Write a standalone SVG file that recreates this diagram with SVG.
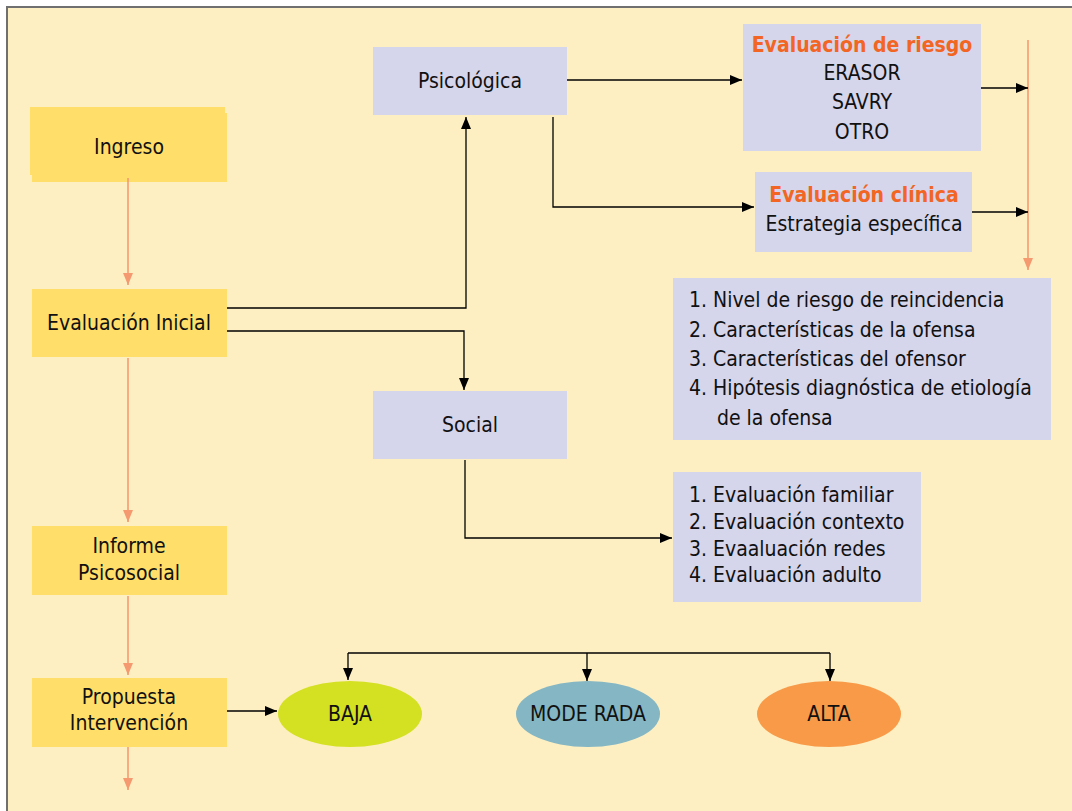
<svg xmlns="http://www.w3.org/2000/svg" width="1072" height="811" viewBox="0 0 1072 811">
<defs>
<marker id="ab" viewBox="0 0 12 10" refX="12" refY="5" markerWidth="12" markerHeight="10" markerUnits="userSpaceOnUse" orient="auto"><path d="M0,0 L12,5 L0,10 Z" fill="#000"/></marker>
<marker id="as" viewBox="0 0 12 10" refX="12" refY="5" markerWidth="14" markerHeight="10" markerUnits="userSpaceOnUse" orient="auto"><path d="M0,0 L12,5 L0,10 Z" fill="#F59A70"/></marker>
<style>
text{font-family:"DejaVu Sans Condensed","DejaVu Sans",sans-serif;font-size:21px;fill:#111;}
.c{text-anchor:middle;}
.y{fill:#FFDE6A;}
.l{fill:#D5D5EB;}
.o{fill:#F26522;font-weight:bold;}
.k{fill:none;stroke:#000;stroke-width:1.3;}
.s{fill:none;stroke:#F59A70;stroke-width:1.6;}
</style>
</defs>
<rect x="7" y="7" width="1075" height="815" fill="#FDEFC2" stroke="#707070" stroke-width="2"/>

<g id="ingreso"><rect class="y" x="30" y="107" width="195" height="68"/><rect class="y" x="32" y="113" width="195" height="69"/><text class="c" x="129" y="154">Ingreso</text></g>
<g id="eval-inicial"><rect class="y" x="32" y="289" width="195" height="68"/><text class="c" x="129" y="330">Evaluación Inicial</text></g>
<g id="informe"><rect class="y" x="32" y="526" width="195" height="69"/><text class="c" x="129" y="553">Informe</text><text class="c" x="129" y="580">Psicosocial</text></g>
<g id="propuesta"><rect class="y" x="32" y="678" width="195" height="69"/><text class="c" x="129" y="704">Propuesta</text><text class="c" x="129" y="730">Intervención</text></g>
<g id="psicologica"><rect class="l" x="373" y="47" width="194" height="68"/><text class="c" x="470" y="88">Psicológica</text></g>
<g id="social"><rect class="l" x="373" y="391" width="194" height="68"/><text class="c" x="470" y="432">Social</text></g>
<g id="eval-riesgo"><rect class="l" x="743" y="24" width="238" height="127"/><text class="c o" x="862" y="52">Evaluación de riesgo</text><text class="c" x="862" y="80">ERASOR</text><text class="c" x="862" y="109">SAVRY</text><text class="c" x="862" y="139">OTRO</text></g>
<g id="eval-clinica"><rect class="l" x="755" y="172" width="217" height="80"/><text class="c o" x="864" y="202">Evaluación clínica</text><text class="c" x="864" y="231">Estrategia específica</text></g>
<g id="lista-psico"><rect class="l" x="673" y="278" width="378" height="162"/>
<text x="689" y="307">1. Nivel de riesgo de reincidencia</text>
<text x="689" y="337">2. Características de la ofensa</text>
<text x="689" y="366">3. Características del ofensor</text>
<text x="689" y="395">4. Hipótesis diagnóstica de etiología</text>
<text x="717" y="425">de la ofensa</text></g>
<g id="lista-social"><rect class="l" x="673" y="472" width="248" height="130"/>
<text x="689" y="502">1. Evaluación familiar</text>
<text x="689" y="529">2. Evaluación contexto</text>
<text x="689" y="556">3. Evaaluación redes</text>
<text x="689" y="582">4. Evaluación adulto</text></g>
<g id="baja"><ellipse cx="350" cy="714" rx="72" ry="33" fill="#D4E022"/><text class="c" x="350" y="721">BAJA</text></g>
<g id="moderada"><ellipse cx="588" cy="714" rx="72" ry="33" fill="#84B6C4"/><text class="c" x="588" y="721">MODE RADA</text></g>
<g id="alta"><ellipse cx="829" cy="714" rx="72" ry="33" fill="#F89A48"/><text class="c" x="829" y="721">ALTA</text></g>

<g id="connectors">
<path class="s" d="M128,178 V285" marker-end="url(#as)"/>
<path class="s" d="M128,358 V522" marker-end="url(#as)"/>
<path class="s" d="M128,596 V675" marker-end="url(#as)"/>
<path class="s" d="M128,747 V790" marker-end="url(#as)"/>
<path class="s" d="M1028,40 V270" marker-end="url(#as)"/>
<path class="k" d="M227,308 H466 V117" marker-end="url(#ab)"/>
<path class="k" d="M227,331 H464 V390" marker-end="url(#ab)"/>
<path class="k" d="M567,80 H742" marker-end="url(#ab)"/>
<path class="k" d="M553,117 V207 H754" marker-end="url(#ab)"/>
<path class="k" d="M981,88 H1028" marker-end="url(#ab)"/>
<path class="k" d="M972,212 H1028" marker-end="url(#ab)"/>
<path class="k" d="M465,460 V538 H672" marker-end="url(#ab)"/>
<path class="k" d="M227,711 H277" marker-end="url(#ab)"/>
<path class="k" d="M348,653 H830"/>
<path class="k" d="M348,653 V680" marker-end="url(#ab)"/>
<path class="k" d="M587,653 V681" marker-end="url(#ab)"/>
<path class="k" d="M830,653 V681" marker-end="url(#ab)"/>
</g>
</svg>
